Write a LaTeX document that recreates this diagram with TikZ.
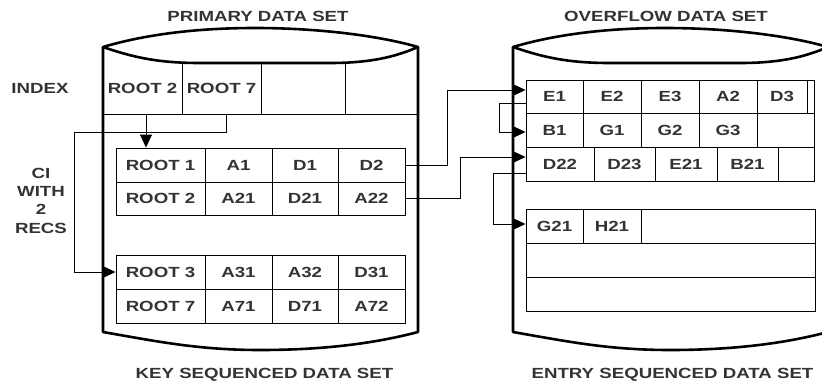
\documentclass[tikz,border=0pt]{standalone}
\usepackage{fontspec}
\newfontfamily\lblfont{Liberation Sans}[FakeStretch=1.27]
\usetikzlibrary{arrows.meta}
\tikzset{
  wall/.style={line width=2.6pt, line join=round},
  lbl/.style={text=black!80, font=\lblfont\bfseries\fontsize{14.7}{18.3}\selectfont},
  cell/.style={lbl, draw, line width=0.9pt, inner sep=0pt},
  txt/.style={lbl, inner sep=0pt, align=center},
  conn/.style={line width=0.9pt},
  tip/.style={-{Triangle[length=13pt,width=12pt]}},
}
% outline of one storage drum (lid, walls, bottom)
\newcommand\drumlid{(103,47) .. controls (140,36) and (190,28) .. (255,28)
  .. controls (320,28) and (380,36) .. (418,47)
  .. controls (395,57) and (370,63) .. (330,63) -- (200,63)
  .. controls (160,63) and (135,58) .. (103,47) -- cycle}
\newcommand\drawdrum{%
  \path[fill=white] \drumlid;
  \draw[wall] \drumlid;
  \draw[wall] (103,47) -- (103,332) .. controls (160,342) and (200,350) .. (260,350)
    .. controls (330,350) and (380,342) .. (418,332) -- (418,47);}
\begin{document}
\begin{tikzpicture}[x=1pt,y=-1pt]
\useasboundingbox (0,0) rectangle (822,386);
\clip (0,0) rectangle (822,386);

% index row of the primary data set (tops hidden under the lid)
\node[cell, minimum width=79pt, minimum height=65.5pt] (ix1) at (142.5,81.25) {};
\node[cell, minimum width=79pt, minimum height=65.5pt] (ix2) at (221.5,81.25) {};
\node[cell, minimum width=84pt, minimum height=65.5pt] (ix3) at (303,81.25) {};
\node[cell, minimum width=73pt, minimum height=65.5pt] (ix4) at (381.5,81.25) {};

% the two drums
\drawdrum
\begin{scope}[xshift=410pt]
  \drawdrum
\end{scope}

\node[txt] (ix1t) at (142.5,88) {ROOT 2};
\node[txt] (ix2t) at (221.5,88) {ROOT 7};

% headings and side labels
\node[txt, anchor=base] (hdA) at (258,21.5) {PRIMARY DATA SET};
\node[txt, anchor=base] (hdB) at (666,21.5) {OVERFLOW DATA SET};
\node[txt, anchor=base] (ftA) at (264.5,378.5) {KEY SEQUENCED DATA SET};
\node[txt, anchor=base] (ftB) at (672.5,378.5) {ENTRY SEQUENCED DATA SET};
\node[txt] (idx) at (40,88) {INDEX};
\node[txt] (ci) at (41,200.5) {CI\\WITH\\2\\RECS};

% control interval with two records
\node[cell, minimum width=89pt, minimum height=34pt] (r1)  at (160.5,165) {ROOT 1};
\node[cell, minimum width=67pt, minimum height=34pt] (a1)  at (238.5,165) {A1};
\node[cell, minimum width=66pt, minimum height=34pt] (d1)  at (305,165)   {D1};
\node[cell, minimum width=67pt, minimum height=34pt] (d2)  at (371.5,165) {D2};
\node[cell, minimum width=89pt, minimum height=33pt] (r2)  at (160.5,198.5) {ROOT 2};
\node[cell, minimum width=67pt, minimum height=33pt] (a21) at (238.5,198.5) {A21};
\node[cell, minimum width=66pt, minimum height=33pt] (d21) at (305,198.5)   {D21};
\node[cell, minimum width=67pt, minimum height=33pt] (a22) at (371.5,198.5) {A22};

\node[cell, minimum width=89pt, minimum height=34pt] (r3)  at (160.5,272) {ROOT 3};
\node[cell, minimum width=67pt, minimum height=34pt] (a31) at (238.5,272) {A31};
\node[cell, minimum width=66pt, minimum height=34pt] (a32) at (305,272)   {A32};
\node[cell, minimum width=67pt, minimum height=34pt] (d31) at (371.5,272) {D31};
\node[cell, minimum width=89pt, minimum height=34pt] (r7)  at (160.5,306) {ROOT 7};
\node[cell, minimum width=67pt, minimum height=34pt] (a71) at (238.5,306) {A71};
\node[cell, minimum width=66pt, minimum height=34pt] (d71) at (305,306)   {D71};
\node[cell, minimum width=67pt, minimum height=34pt] (a72) at (371.5,306) {A72};

% overflow records
\node[cell, minimum width=57pt, minimum height=33pt] (e1) at (554.5,96.5) {E1};
\node[cell, minimum width=58pt, minimum height=33pt] (e2) at (612,96.5)   {E2};
\node[cell, minimum width=58pt, minimum height=33pt] (e3) at (670,96.5)   {E3};
\node[cell, minimum width=58pt, minimum height=33pt] (a2) at (728,96.5)   {A2};
\node[cell, minimum width=50pt, minimum height=33pt] (d3) at (782,96.5)   {D3};
\node[cell, minimum width=7pt,  minimum height=33pt] (xa) at (810.5,96.5) {};

\node[cell, minimum width=57pt, minimum height=34pt] (b1) at (554.5,130) {B1};
\node[cell, minimum width=58pt, minimum height=34pt] (g1) at (612,130)   {G1};
\node[cell, minimum width=58pt, minimum height=34pt] (g2) at (670,130)   {G2};
\node[cell, minimum width=58pt, minimum height=34pt] (g3) at (728,130)   {G3};
\node[cell, minimum width=57pt, minimum height=34pt] (xb) at (785.5,130) {};

\node[cell, minimum width=68pt, minimum height=34pt] (d22) at (560,164)   {D22};
\node[cell, minimum width=61pt, minimum height=34pt] (d23) at (624.5,164) {D23};
\node[cell, minimum width=62pt, minimum height=34pt] (e21) at (686,164)   {E21};
\node[cell, minimum width=61pt, minimum height=34pt] (b21) at (747.5,164) {B21};
\node[cell, minimum width=36pt, minimum height=34pt] (xc)  at (796,164)   {};

\node[cell, minimum width=57pt,  minimum height=34pt] (g21) at (554.5,226) {G21};
\node[cell, minimum width=58pt,  minimum height=34pt] (h21) at (612,226)   {H21};
\node[cell, minimum width=174pt, minimum height=34pt] (xd)  at (728,226)   {};
\node[cell, minimum width=289pt, minimum height=34pt] (xe)  at (670.5,260) {};
\node[cell, minimum width=289pt, minimum height=34pt] (xf)  at (670.5,294) {};

% pointers from the index
\path ([xshift=3.5pt]ix1.south) coordinate (p1);
\path ([xshift=4.5pt]ix2.south) coordinate (p2);
\coordinate (ciL) at (74,132);
\draw[conn,tip] (p1) -- (p1 |- r1.north);
\draw[conn,tip] (p2) |- (ciL) |- (r3.west);

% pointers into the overflow data set
\draw[conn,tip] (d2.east) -- ++(42,0) |- ([yshift=6.5pt]e1.west);
\draw[conn,tip] (a22.east) -- ++(55,0) |- ([yshift=7pt]d22.west);
\draw[conn,tip] ([yshift=-6.5pt]e1.west) -- ++(-26,0) |- ([yshift=-2pt]b1.west);
\draw[conn,tip] ([yshift=-9pt]d22.west) -- ++(-32,0) |- ([yshift=2pt]g21.west);
\end{tikzpicture}
\end{document}
